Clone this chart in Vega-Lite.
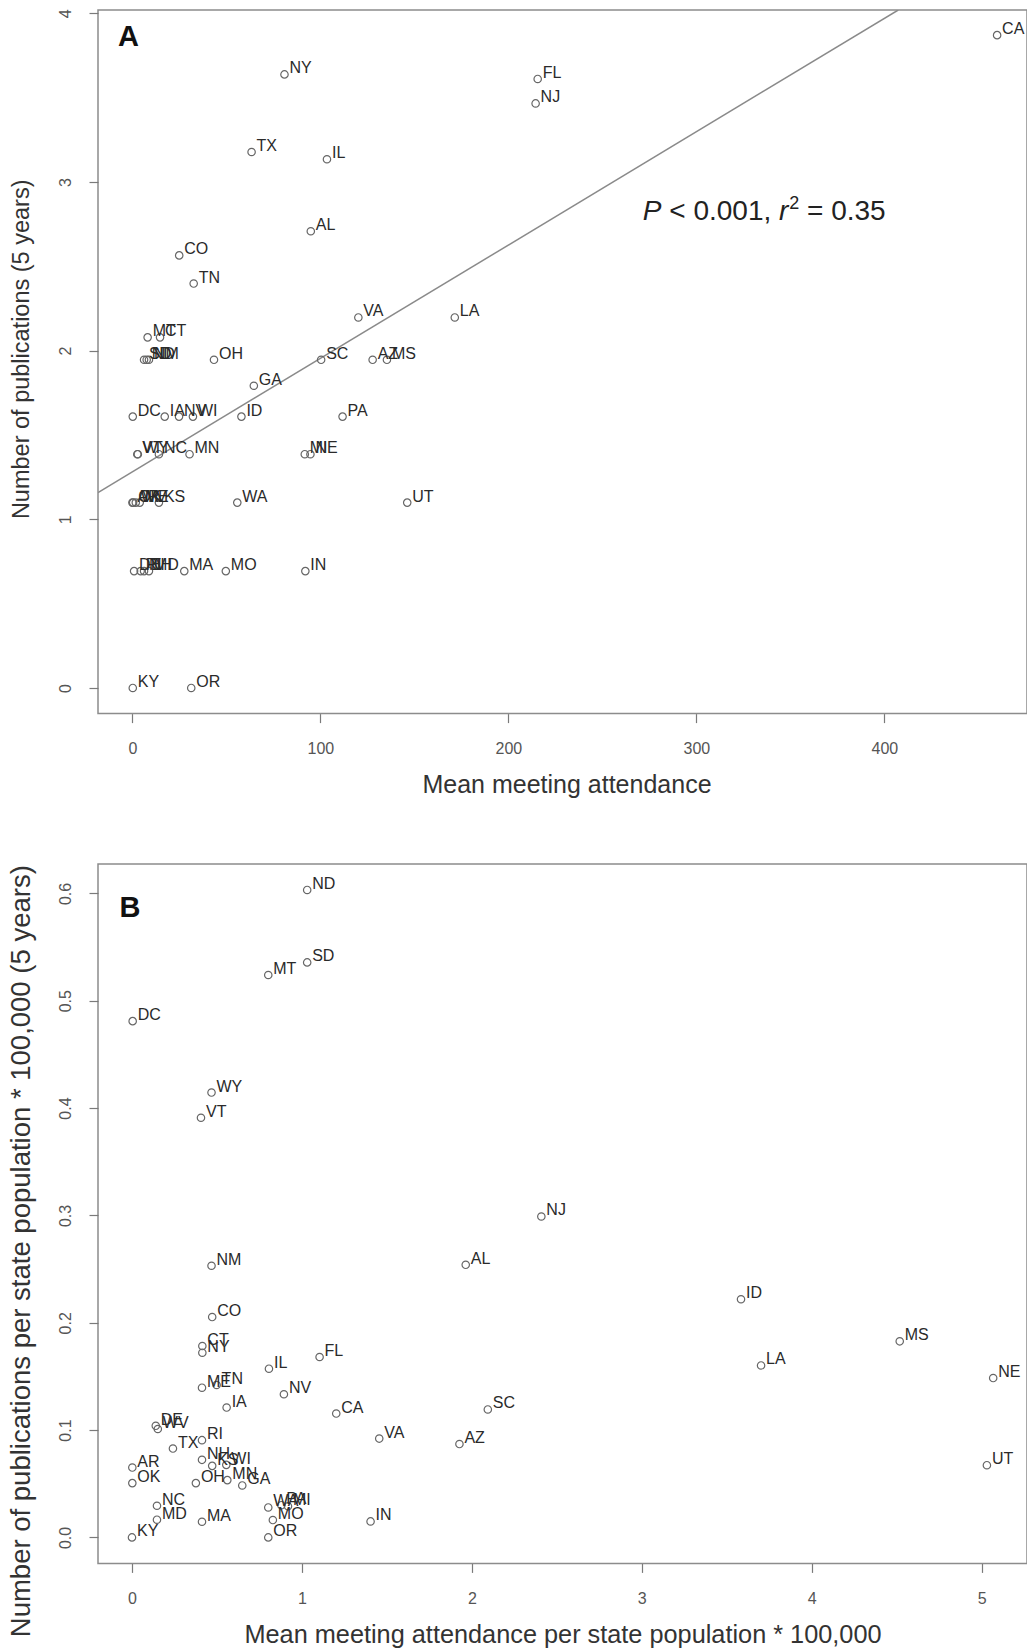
{
 "$schema": "https://vega.github.io/schema/vega-lite/v6.json",
 "background": "white",
 "padding": {"left": 6, "top": 8, "right": 0, "bottom": 0},
 "spacing": 150,
 "bounds": "flush",
 "config": {
   "font": "Liberation Sans",
   "view": {"stroke": "#8c8c8c", "strokeWidth": 1.5},
   "axis": {"grid": false, "domain": false, "ticks": true, "tickColor": "#7a7a7a", "tickWidth": 1.2, "tickSize": 9,
            "labelFont": "Liberation Sans", "labelFontSize": 16, "labelColor": "#555555",
            "titleFont": "Liberation Sans", "titleFontWeight": "normal", "titleColor": "#333333"},
   "axisX": {"labelBaseline": "alphabetic", "labelPadding": 31, "titleBaseline": "alphabetic", "titleAlign": "center"},
   "axisY": {"labelAngle": -90, "labelAlign": "center", "labelBaseline": "alphabetic", "labelPadding": 18.6,
             "titleAngle": -90, "titleBaseline": "alphabetic", "titleAlign": "center", "titleX": -69.5}
 },
 "datasets": {
   "a": [
     {"s":"KY","x":0.2,"y":0},{"s":"OR","x":31.3,"y":0},
     {"s":"DE","x":0.9,"y":0.693},{"s":"RI","x":4.4,"y":0.693},{"s":"NH","x":6.2,"y":0.693},{"s":"MD","x":8.8,"y":0.693},
     {"s":"MA","x":27.6,"y":0.693},{"s":"MO","x":49.7,"y":0.693},{"s":"IN","x":92.0,"y":0.693},
     {"s":"AR","x":0,"y":1.099},{"s":"OK","x":0.4,"y":1.099},{"s":"WV","x":1.8,"y":1.099},{"s":"ME","x":3.9,"y":1.099},
     {"s":"KS","x":14.1,"y":1.099},{"s":"WA","x":55.8,"y":1.099},{"s":"UT","x":146.2,"y":1.099},
     {"s":"VT","x":2.6,"y":1.386},{"s":"WY","x":2.9,"y":1.386},{"s":"NC","x":14.1,"y":1.386},{"s":"MN","x":30.4,"y":1.386},
     {"s":"MI","x":91.7,"y":1.386},{"s":"NE","x":94.7,"y":1.386},
     {"s":"DC","x":0.2,"y":1.609},{"s":"IA","x":17.2,"y":1.609},{"s":"NV","x":24.8,"y":1.609},{"s":"WI","x":32.2,"y":1.609},
     {"s":"ID","x":58.0,"y":1.609},{"s":"PA","x":111.8,"y":1.609},
     {"s":"GA","x":64.6,"y":1.792},
     {"s":"SD","x":6.2,"y":1.946},{"s":"ND","x":7.6,"y":1.946},{"s":"NM","x":8.8,"y":1.946},{"s":"OH","x":43.4,"y":1.946},
     {"s":"SC","x":100.4,"y":1.946},{"s":"AZ","x":127.8,"y":1.946},{"s":"MS","x":135.4,"y":1.946},
     {"s":"MT","x":8.1,"y":2.079},{"s":"CT","x":14.7,"y":2.079},
     {"s":"VA","x":120.2,"y":2.197},{"s":"LA","x":171.5,"y":2.197},
     {"s":"TN","x":32.6,"y":2.398},{"s":"CO","x":24.9,"y":2.565},{"s":"AL","x":94.9,"y":2.708},
     {"s":"IL","x":103.5,"y":3.135},{"s":"TX","x":63.4,"y":3.178},{"s":"NJ","x":214.5,"y":3.466},
     {"s":"FL","x":215.6,"y":3.611},{"s":"NY","x":80.9,"y":3.638},{"s":"CA","x":460,"y":3.871}
   ],
   "b": [
     {"s":"KY","x":0.0,"y":0.0},{"s":"OR","x":0.802,"y":0.0},{"s":"DE","x":0.14,"y":0.104},{"s":"WV","x":0.152,"y":0.101},
     {"s":"RI","x":0.412,"y":0.0906},{"s":"NH","x":0.412,"y":0.0723},{"s":"MD","x":0.147,"y":0.0165},{"s":"MA","x":0.412,"y":0.0146},
     {"s":"MO","x":0.829,"y":0.0162},{"s":"IN","x":1.404,"y":0.0149},{"s":"AR","x":0.002,"y":0.0651},{"s":"OK","x":0.002,"y":0.0506},
     {"s":"ME","x":0.412,"y":0.1395},{"s":"KS","x":0.472,"y":0.0667},{"s":"WA","x":0.802,"y":0.0279},{"s":"UT","x":5.031,"y":0.0673},
     {"s":"VT","x":0.406,"y":0.391},{"s":"WY","x":0.468,"y":0.4145},{"s":"NC","x":0.147,"y":0.0295},{"s":"MN","x":0.561,"y":0.0534},
     {"s":"PA","x":0.879,"y":0.030},{"s":"MI","x":0.918,"y":0.029},{"s":"NE","x":5.068,"y":0.1485},{"s":"DC","x":0.004,"y":0.481},
     {"s":"IA","x":0.557,"y":0.121},{"s":"NV","x":0.894,"y":0.1334},{"s":"WI","x":0.555,"y":0.0676},{"s":"ID","x":3.584,"y":0.2219},
     {"s":"GA","x":0.649,"y":0.0484},{"s":"SD","x":1.031,"y":0.5357},{"s":"ND","x":1.031,"y":0.6032},{"s":"NM","x":0.468,"y":0.2531},
     {"s":"OH","x":0.376,"y":0.0506},{"s":"SC","x":2.094,"y":0.1192},{"s":"AZ","x":1.927,"y":0.087},{"s":"MS","x":4.518,"y":0.1827},
     {"s":"MT","x":0.802,"y":0.524},{"s":"CT","x":0.414,"y":0.1783},{"s":"VA","x":1.455,"y":0.0921},{"s":"LA","x":3.702,"y":0.1602},
     {"s":"TN","x":0.498,"y":0.142},{"s":"CO","x":0.472,"y":0.2053},{"s":"AL","x":1.964,"y":0.254},{"s":"IL","x":0.806,"y":0.1572},
     {"s":"TX","x":0.241,"y":0.0828},{"s":"NJ","x":2.409,"y":0.299},{"s":"FL","x":1.104,"y":0.1681},{"s":"NY","x":0.414,"y":0.1721},
     {"s":"CA","x":1.202,"y":0.1154}
   ],
   "lineA": [{"x":-18.3,"y":1.159},{"x":407.4,"y":4.02}],
   "panelA": [{"x":-7.6,"y":3.804,"t":"A"}],
   "panelB": [{"x":-0.073,"y":0.5783,"t":"B"}],
   "ann": [{"x":271.5,"y":2.773,"p1":"P","p2":"< 0.001,","p3":"r","p4":"2","p5":"= 0.35"}]
 },
 "vconcat": [
  {
   "width": 929, "height": 703.6,
   "encoding": {
     "x": {"field":"x","type":"quantitative","scale":{"domain":[-18.3,475.9],"nice":false,"zero":false},
           "axis":{"values":[0,100,200,300,400],"title":"Mean meeting attendance","titleFontSize":25,"titleY":78.7,"titleX":468.5}},
     "y": {"field":"y","type":"quantitative","scale":{"domain":[-0.152,4.02],"nice":false,"zero":false},
           "axis":{"values":[0,1,2,3,4],"title":"Number of publications (5 years)","titleFontSize":23.5,"titleY":338.8}}
   },
   "layer": [
     {"data":{"name":"lineA"},"mark":{"type":"line","color":"#8a8a8a","strokeWidth":1.5,"clip":true}},
     {"data":{"name":"a"},"mark":{"type":"point","shape":"circle","filled":false,"size":55,"stroke":"#666666","strokeWidth":1.2,"opacity":1}},
     {"data":{"name":"a"},"mark":{"type":"text","align":"left","baseline":"alphabetic","dx":5,"dy":-1,"fontSize":16,"color":"#2a2a2a"},
      "encoding":{"text":{"field":"s"}}},
     {"data":{"name":"panelA"},"mark":{"type":"text","align":"left","baseline":"alphabetic","fontSize":29,"fontWeight":"bold","color":"#111111"},
      "encoding":{"text":{"field":"t"}}},
     {"data":{"name":"ann"},"mark":{"type":"text","align":"left","baseline":"alphabetic","fontSize":28,"fontStyle":"italic","color":"#222222"},
      "encoding":{"text":{"field":"p1"}}},
     {"data":{"name":"ann"},"mark":{"type":"text","align":"left","baseline":"alphabetic","fontSize":28,"dx":26.5,"color":"#222222"},
      "encoding":{"text":{"field":"p2"}}},
     {"data":{"name":"ann"},"mark":{"type":"text","align":"left","baseline":"alphabetic","fontSize":28,"fontStyle":"italic","dx":136.2,"color":"#222222"},
      "encoding":{"text":{"field":"p3"}}},
     {"data":{"name":"ann"},"mark":{"type":"text","align":"left","baseline":"alphabetic","fontSize":18,"dx":146.5,"dy":-11,"color":"#222222"},
      "encoding":{"text":{"field":"p4"}}},
     {"data":{"name":"ann"},"mark":{"type":"text","align":"left","baseline":"alphabetic","fontSize":28,"dx":164.3,"color":"#222222"},
      "encoding":{"text":{"field":"p5"}}}
   ]
  },
  {
   "width": 929, "height": 699.4,
   "encoding": {
     "x": {"field":"x","type":"quantitative","scale":{"domain":[-0.2,5.267],"nice":false,"zero":false},
           "axis":{"values":[0,1,2,3,4,5],"title":"Mean meeting attendance per state population * 100,000","titleFontSize":25.3,"titleY":78.7}},
     "y": {"field":"y","type":"quantitative","scale":{"domain":[-0.0242,0.6274],"nice":false,"zero":false},
           "axis":{"values":[0,0.1,0.2,0.3,0.4,0.5,0.6],"format":".1f","title":"Number of publications per state population * 100,000 (5 years)","titleFontSize":27.5,"titleY":386.7,"titleX":-69}}
   },
   "layer": [
     {"data":{"name":"b"},"mark":{"type":"point","shape":"circle","filled":false,"size":55,"stroke":"#666666","strokeWidth":1.2,"opacity":1}},
     {"data":{"name":"b"},"mark":{"type":"text","align":"left","baseline":"alphabetic","dx":5,"dy":-1,"fontSize":16,"color":"#2a2a2a"},
      "encoding":{"text":{"field":"s"}}},
     {"data":{"name":"panelB"},"mark":{"type":"text","align":"left","baseline":"alphabetic","fontSize":29,"fontWeight":"bold","color":"#111111"},
      "encoding":{"text":{"field":"t"}}}
   ]
  }
 ]
}
